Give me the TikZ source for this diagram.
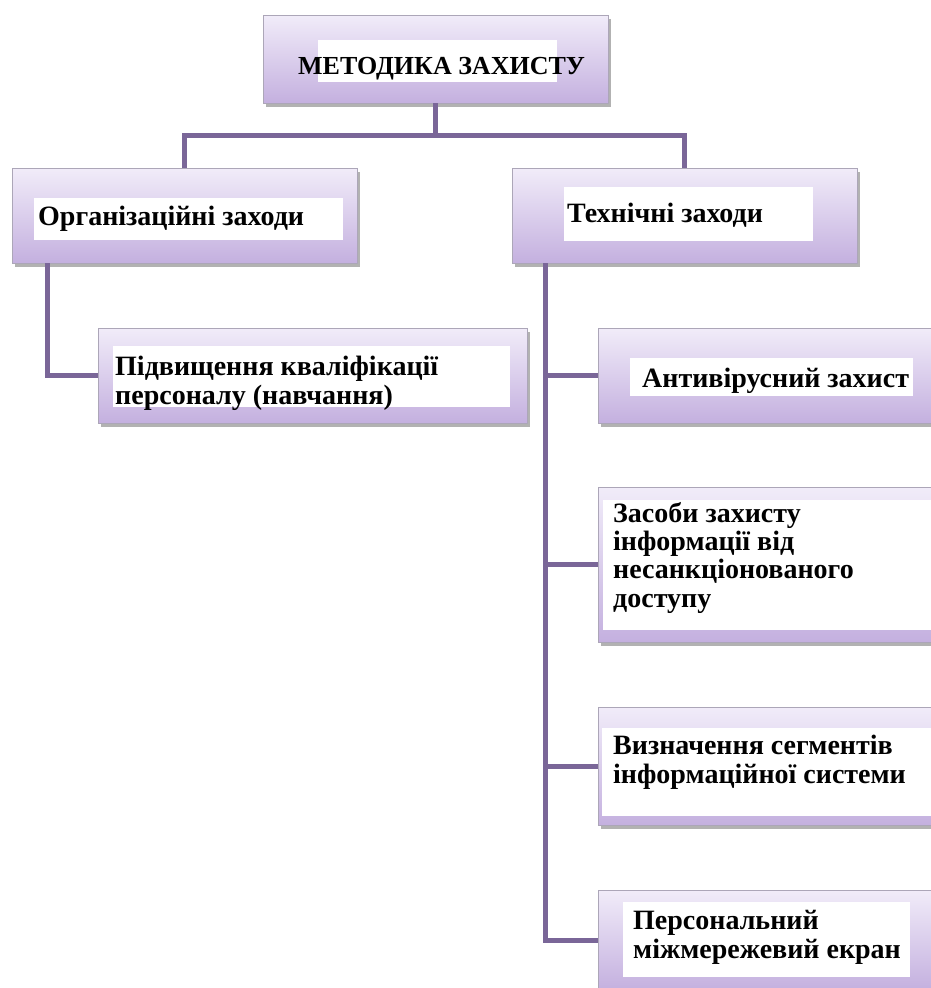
\documentclass[tikz,border=0pt]{standalone}
\usepackage{fontspec}
\setmainfont{Liberation Serif}
\usetikzlibrary{shadows}
\definecolor{boxtop}{RGB}{241,236,249}
\definecolor{boxbot}{RGB}{196,176,223}
\definecolor{boxedge}{RGB}{172,166,184}
\definecolor{link}{RGB}{122,102,152}
\tikzset{
  box/.style={draw=boxedge, line width=1pt, top color=boxtop, bottom color=boxbot,
    drop shadow={shadow xshift=2.5pt, shadow yshift=-3.5pt, opacity=0.5, fill=black!60},
    anchor=north west, inner sep=0pt, outer sep=0pt},
  patch/.style={fill=white, draw=none},
  lbl/.style={anchor=base west, inner sep=0pt, align=left,
    font=\fontsize{28}{28.3}\selectfont\bfseries},
  conn/.style={draw=link, line width=5pt}
}
\begin{document}
\begin{tikzpicture}[x=1pt, y=-1pt]
\useasboundingbox (0,0) rectangle (931,988);
% boxes
\node[box, minimum width=345pt, minimum height=88pt] (top) at (263,15) {};
\node[box, minimum width=345pt, minimum height=95pt] (org) at (12,168) {};
\node[box, minimum width=345pt, minimum height=95pt] (tech) at (512,168) {};
\node[box, minimum width=429pt, minimum height=95pt] (pod) at (98,328) {};
\node[box, minimum width=345pt, minimum height=95pt] (anti) at (598,328) {};
\node[box, minimum width=345pt, minimum height=155pt] (zas) at (598,487) {};
\node[box, minimum width=345pt, minimum height=118pt] (viz) at (598,707) {};
\node[box, minimum width=345pt, minimum height=100pt] (pers) at (598,890) {};
% white patches
\fill[patch] (318,40) rectangle (557,82);
\fill[patch] (34,198) rectangle (343,240);
\fill[patch] (564,187) rectangle (813,241);
\fill[patch] (113,346) rectangle (510,407);
\fill[patch] (630,358) rectangle (913,396);
\fill[patch] (603,500) rectangle (935,630);
\fill[patch] (602,728) rectangle (935,816);
\fill[patch] (623,902) rectangle (910,977);
% texts
\node[lbl, font=\fontsize{26}{28.3}\selectfont\bfseries] (ttop) at (298,74) {МЕТОДИКА ЗАХИСТУ};
\node[lbl] (torg) at (38,225) {Організаційні заходи};
\node[lbl] (ttech) at (567,222) {Технічні заходи};
\node[lbl] (tpod) at (115,404) {Підвищення кваліфікації\\персоналу (навчання)};
\node[lbl] (tanti) at (642,387) {Антивірусний захист};
\node[lbl] (tzas) at (613,607) {Засоби захисту\\інформації від\\несанкціонованого\\доступу};
\node[lbl] (tviz) at (613,783) {Визначення сегментів\\інформаційної системи};
\node[lbl] (tpers) at (633,958) {Персональний\\міжмережевий екран};
% connectors
\coordinate (j) at ([yshift=-32pt]top.south);
\draw[conn] (top.south) -- (j);
\draw[conn] (org.north) |- (j) -| (tech.north);
\draw[conn] ([xshift=35pt]org.south west) |- (pod.west);
\coordinate (tr) at ([xshift=33pt]tech.south west);
\draw[conn] (tr) |- ([yshift=-0.5pt]pers.west);
\draw[conn] (tr |- anti.west) -- (anti.west);
\draw[conn] (tr |- zas.west) -- (zas.west);
\draw[conn] (tr |- viz.west) -- (viz.west);
\end{tikzpicture}
\end{document}
